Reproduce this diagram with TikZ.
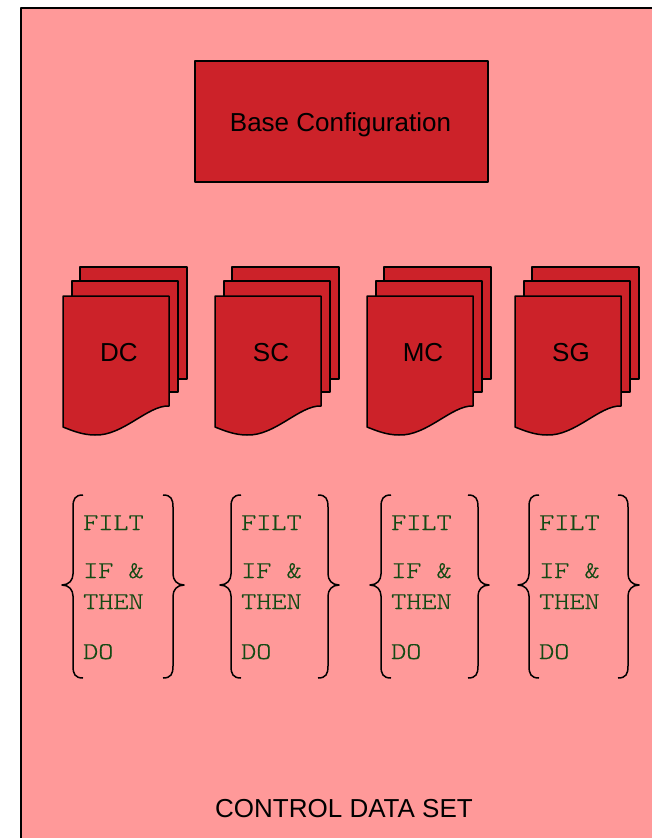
\documentclass[tikz,border=0pt]{standalone}
\usepackage{fontspec}
\setmainfont{Liberation Sans}
\newfontfamily\codefont[FakeStretch=1.2,FakeBold=0.6]{lmmonolt10-regular.otf}
\definecolor{panel}{HTML}{FF9999}
\definecolor{boxred}{HTML}{CC2229}
\definecolor{codegreen}{HTML}{144A14}

\begin{document}
\begin{tikzpicture}[x=1pt,y=-1pt,line join=round,
  page/.style={draw=black,line width=1.5pt,fill=boxred},
  lbl/.style={font=\fontsize{26}{31}\selectfont,text=black,inner sep=0pt,anchor=base},
  code/.style={font=\codefont\fontsize{24}{29}\selectfont,text=codegreen,anchor=base west,inner sep=0pt},
  bracket/.style={draw=black,line width=1.5pt}]
\useasboundingbox (0,0) rectangle (652,838);

% background panel, running off the right and bottom edges
\begin{scope}
  \clip (0,0) rectangle (652,838);
  \draw[fill=panel,line width=2pt] (21,8) rectangle (700,900);
\end{scope}

% base configuration box
\draw[page] (195,61) rectangle (488,182);
\node[lbl] (base) at (340.5,131) {Base Configuration};

% stacks of documents
\foreach \L/\nm/\txt in {63/dc/DC, 215/sc/SC, 367/mc/MC, 515/sg/SG}{
  \draw[page] (\L+17,267) rectangle (\L+124,379);
  \draw[page] (\L+9,281) rectangle (\L+115,392);
  \draw[page] (\L,296) -- (\L+106,296) -- (\L+106,406)
     .. controls (\L+85,405) and (\L+60,436) .. (\L+32,435)
     .. controls (\L+20,435) and (\L+10,431) .. (\L,427) -- cycle;
  \node[lbl] (\nm) at (\L+56,361) {\txt};
}

% rule groups in braces
\foreach \a/\b [count=\i] in {73/173, 231/328, 381/478, 529/628}{
  \draw[bracket] (\a+10,495) .. controls (\a+2,495) and (\a,499) .. (\a,507)
     -- (\a,574) .. controls (\a,580) and (\a-4,585) .. (\a-11,585)
     .. controls (\a-4,585) and (\a,590) .. (\a,596)
     -- (\a,666) .. controls (\a,674) and (\a+2,678) .. (\a+10,678);
  \draw[bracket] (\b-10,495) .. controls (\b-2,495) and (\b,499) .. (\b,507)
     -- (\b,574) .. controls (\b,580) and (\b+4,585) .. (\b+11,585)
     .. controls (\b+4,585) and (\b,590) .. (\b,596)
     -- (\b,666) .. controls (\b,674) and (\b-2,678) .. (\b-10,678);
  \node[code] (filt\i) at (\a+10,530) {FILT};
  \node[code] (if\i) at (\a+10,578) {IF \&};
  \node[code] (then\i) at (\a+10,609) {THEN};
  \node[code] (do\i) at (\a+10,659) {DO};
}

\node[lbl] (cds) at (344,817) {CONTROL DATA SET};
\end{tikzpicture}
\end{document}
